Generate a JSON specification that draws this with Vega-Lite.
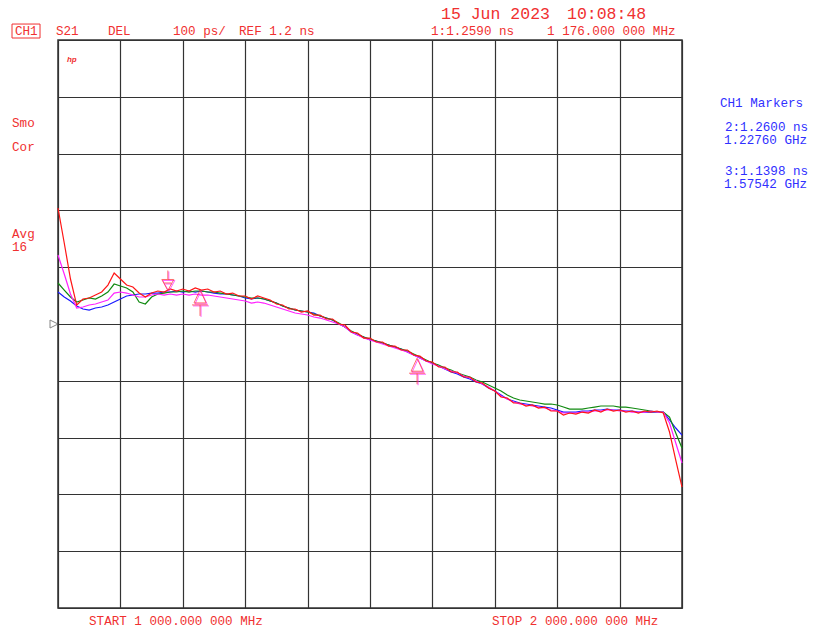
{
  "$schema": "https://vega.github.io/schema/vega-lite/v6.json",
  "width": 624,
  "height": 568,
  "autosize": {"type": "none"},
  "padding": {"left": 58, "top": 40, "right": 135, "bottom": 27},
  "background": "white",
  "config": {
    "view": {"stroke": "#333333", "strokeWidth": 1.5},
    "axis": {"grid": true, "gridColor": "#333333", "gridWidth": 1.2, "gridOpacity": 1, "domain": false, "ticks": false, "labels": false, "title": null}
  },
  "datasets": {
    "traces": [
      {"f":1000,"b":1.2563,"g":1.2722,"m":1.3215,"r":1.4042},
      {"f":1010,"b":1.2475,"g":1.2598,"m":1.2880,"r":1.3426},
      {"f":1020,"b":1.2405,"g":1.2475,"m":1.2528,"r":1.2792},
      {"f":1030,"b":1.2317,"g":1.2387,"m":1.2282,"r":1.2334},
      {"f":1040,"b":1.2264,"g":1.2422,"m":1.2299,"r":1.2440},
      {"f":1050,"b":1.2246,"g":1.2458,"m":1.2334,"r":1.2458},
      {"f":1060,"b":1.2282,"g":1.2440,"m":1.2352,"r":1.2510},
      {"f":1070,"b":1.2299,"g":1.2493,"m":1.2387,"r":1.2563},
      {"f":1080,"b":1.2334,"g":1.2563,"m":1.2422,"r":1.2686},
      {"f":1090,"b":1.2387,"g":1.2704,"m":1.2545,"r":1.2898},
      {"f":1100,"b":1.2440,"g":1.2669,"m":1.2563,"r":1.2792},
      {"f":1110,"b":1.2493,"g":1.2634,"m":1.2545,"r":1.2686},
      {"f":1120,"b":1.2510,"g":1.2563,"m":1.2510,"r":1.2651},
      {"f":1130,"b":1.2528,"g":1.2387,"m":1.2475,"r":1.2545},
      {"f":1140,"b":1.2528,"g":1.2352,"m":1.2475,"r":1.2475},
      {"f":1150,"b":1.2545,"g":1.2475,"m":1.2510,"r":1.2545},
      {"f":1160,"b":1.2545,"g":1.2528,"m":1.2528,"r":1.2581},
      {"f":1170,"b":1.2563,"g":1.2545,"m":1.2510,"r":1.2563},
      {"f":1180,"b":1.2563,"g":1.2563,"m":1.2528,"r":1.2616},
      {"f":1190,"b":1.2581,"g":1.2563,"m":1.2510,"r":1.2581},
      {"f":1200,"b":1.2563,"g":1.2581,"m":1.2528,"r":1.2616},
      {"f":1210,"b":1.2581,"g":1.2563,"m":1.2510,"r":1.2581},
      {"f":1220,"b":1.2563,"g":1.2581,"m":1.2528,"r":1.2634},
      {"f":1230,"b":1.2581,"g":1.2581,"m":1.2510,"r":1.2598},
      {"f":1240,"b":1.2563,"g":1.2563,"m":1.2510,"r":1.2616},
      {"f":1250,"b":1.2545,"g":1.2563,"m":1.2493,"r":1.2563},
      {"f":1260,"b":1.2528,"g":1.2545,"m":1.2475,"r":1.2581},
      {"f":1270,"b":1.2528,"g":1.2528,"m":1.2458,"r":1.2528},
      {"f":1280,"b":1.2510,"g":1.2510,"m":1.2440,"r":1.2545},
      {"f":1290,"b":1.2493,"g":1.2493,"m":1.2422,"r":1.2493},
      {"f":1300,"b":1.2458,"g":1.2475,"m":1.2405,"r":1.2493},
      {"f":1310,"b":1.2440,"g":1.2458,"m":1.2369,"r":1.2440},
      {"f":1320,"b":1.2458,"g":1.2458,"m":1.2387,"r":1.2493},
      {"f":1330,"b":1.2440,"g":1.2440,"m":1.2369,"r":1.2458},
      {"f":1340,"b":1.2405,"g":1.2405,"m":1.2334,"r":1.2422},
      {"f":1350,"b":1.2369,"g":1.2369,"m":1.2299,"r":1.2352},
      {"f":1360,"b":1.2317,"g":1.2317,"m":1.2264,"r":1.2334},
      {"f":1370,"b":1.2282,"g":1.2282,"m":1.2229,"r":1.2264},
      {"f":1380,"b":1.2246,"g":1.2246,"m":1.2194,"r":1.2264},
      {"f":1390,"b":1.2229,"g":1.2229,"m":1.2176,"r":1.2211},
      {"f":1400,"b":1.2211,"g":1.2211,"m":1.2158,"r":1.2229},
      {"f":1410,"b":1.2194,"g":1.2176,"m":1.2123,"r":1.2158},
      {"f":1420,"b":1.2141,"g":1.2141,"m":1.2105,"r":1.2158},
      {"f":1430,"b":1.2105,"g":1.2105,"m":1.2070,"r":1.2088},
      {"f":1440,"b":1.2070,"g":1.2070,"m":1.2035,"r":1.2088},
      {"f":1450,"b":1.2000,"g":1.2017,"m":1.2000,"r":1.2000},
      {"f":1460,"b":1.1947,"g":1.1947,"m":1.1947,"r":1.1982},
      {"f":1470,"b":1.1859,"g":1.1876,"m":1.1859,"r":1.1859},
      {"f":1480,"b":1.1806,"g":1.1824,"m":1.1806,"r":1.1841},
      {"f":1490,"b":1.1771,"g":1.1771,"m":1.1753,"r":1.1753},
      {"f":1500,"b":1.1718,"g":1.1736,"m":1.1718,"r":1.1753},
      {"f":1510,"b":1.1700,"g":1.1700,"m":1.1683,"r":1.1683},
      {"f":1520,"b":1.1665,"g":1.1665,"m":1.1648,"r":1.1683},
      {"f":1530,"b":1.1630,"g":1.1630,"m":1.1612,"r":1.1612},
      {"f":1540,"b":1.1595,"g":1.1595,"m":1.1577,"r":1.1612},
      {"f":1550,"b":1.1560,"g":1.1560,"m":1.1542,"r":1.1542},
      {"f":1560,"b":1.1507,"g":1.1524,"m":1.1507,"r":1.1542},
      {"f":1570,"b":1.1454,"g":1.1472,"m":1.1454,"r":1.1454},
      {"f":1580,"b":1.1401,"g":1.1419,"m":1.1401,"r":1.1436},
      {"f":1590,"b":1.1348,"g":1.1366,"m":1.1348,"r":1.1348},
      {"f":1600,"b":1.1313,"g":1.1313,"m":1.1296,"r":1.1331},
      {"f":1610,"b":1.1260,"g":1.1278,"m":1.1260,"r":1.1243},
      {"f":1620,"b":1.1207,"g":1.1225,"m":1.1207,"r":1.1243},
      {"f":1630,"b":1.1155,"g":1.1190,"m":1.1172,"r":1.1155},
      {"f":1640,"b":1.1119,"g":1.1137,"m":1.1137,"r":1.1155},
      {"f":1650,"b":1.1067,"g":1.1102,"m":1.1084,"r":1.1067},
      {"f":1660,"b":1.1031,"g":1.1067,"m":1.1049,"r":1.1067},
      {"f":1670,"b":1.0979,"g":1.1014,"m":1.0996,"r":1.0979},
      {"f":1680,"b":1.0943,"g":1.0979,"m":1.0943,"r":1.0961},
      {"f":1690,"b":1.0873,"g":1.0926,"m":1.0891,"r":1.0873},
      {"f":1700,"b":1.0820,"g":1.0873,"m":1.0820,"r":1.0820},
      {"f":1710,"b":1.0750,"g":1.0820,"m":1.0732,"r":1.0715},
      {"f":1720,"b":1.0679,"g":1.0750,"m":1.0679,"r":1.0697},
      {"f":1730,"b":1.0644,"g":1.0697,"m":1.0627,"r":1.0609},
      {"f":1740,"b":1.0609,"g":1.0662,"m":1.0591,"r":1.0609},
      {"f":1750,"b":1.0591,"g":1.0644,"m":1.0574,"r":1.0556},
      {"f":1760,"b":1.0574,"g":1.0627,"m":1.0556,"r":1.0574},
      {"f":1770,"b":1.0556,"g":1.0609,"m":1.0538,"r":1.0521},
      {"f":1780,"b":1.0538,"g":1.0591,"m":1.0521,"r":1.0538},
      {"f":1790,"b":1.0521,"g":1.0591,"m":1.0486,"r":1.0468},
      {"f":1800,"b":1.0486,"g":1.0574,"m":1.0468,"r":1.0468},
      {"f":1810,"b":1.0450,"g":1.0538,"m":1.0433,"r":1.0398},
      {"f":1820,"b":1.0450,"g":1.0503,"m":1.0433,"r":1.0433},
      {"f":1830,"b":1.0450,"g":1.0503,"m":1.0433,"r":1.0415},
      {"f":1840,"b":1.0468,"g":1.0503,"m":1.0450,"r":1.0450},
      {"f":1850,"b":1.0468,"g":1.0521,"m":1.0450,"r":1.0433},
      {"f":1860,"b":1.0486,"g":1.0538,"m":1.0468,"r":1.0486},
      {"f":1870,"b":1.0486,"g":1.0556,"m":1.0468,"r":1.0450},
      {"f":1880,"b":1.0503,"g":1.0556,"m":1.0486,"r":1.0503},
      {"f":1890,"b":1.0486,"g":1.0556,"m":1.0486,"r":1.0468},
      {"f":1900,"b":1.0486,"g":1.0538,"m":1.0468,"r":1.0486},
      {"f":1910,"b":1.0468,"g":1.0538,"m":1.0468,"r":1.0450},
      {"f":1920,"b":1.0468,"g":1.0521,"m":1.0450,"r":1.0468},
      {"f":1930,"b":1.0450,"g":1.0503,"m":1.0450,"r":1.0433},
      {"f":1940,"b":1.0450,"g":1.0486,"m":1.0450,"r":1.0468},
      {"f":1950,"b":1.0450,"g":1.0468,"m":1.0468,"r":1.0450},
      {"f":1960,"b":1.0450,"g":1.0450,"m":1.0450,"r":1.0468},
      {"f":1970,"b":1.0450,"g":1.0450,"m":1.0450,"r":1.0433},
      {"f":1980,"b":1.0310,"g":1.0362,"m":1.0257,"r":1.0098},
      {"f":1990,"b":1.0169,"g":1.0081,"m":0.9904,"r":0.9605},
      {"f":2000,"b":1.0045,"g":0.9816,"m":0.9553,"r":0.9130}
    ],
    "markers": [
      {"f": 1176, "ns": 1.259, "id": 1},
      {"f": 1227.6, "ns": 1.26, "id": 2},
      {"f": 1575.42, "ns": 1.1398, "id": 3}
    ],
    "refpos": [{"f": 1000, "ns": 1.2}],
    "chbox": [{"f": 926.3, "f2": 971.2, "ns": 1.7281, "ns2": 1.7035}],
    "redText": [
      {"f": 931.1, "ns": 1.7088, "t": "CH1"},
      {"f": 996.8, "ns": 1.7088, "t": "S21"},
      {"f": 1080.1, "ns": 1.7088, "t": "DEL"},
      {"f": 1184.3, "ns": 1.7088, "t": "100 ps/"},
      {"f": 1290.1, "ns": 1.7088, "t": "REF 1.2 ns"},
      {"f": 1597.8, "ns": 1.7088, "t": "1:1.2590 ns"},
      {"f": 1783.7, "ns": 1.7088, "t": "1 176.000 000 MHz"},
      {"f": 1049.7, "ns": 0.6700, "t": "START 1 000.000 000 MHz"},
      {"f": 1695.5, "ns": 0.6700, "t": "STOP 2 000.000 000 MHz"},
      {"f": 926.3, "ns": 1.5468, "t": "Smo"},
      {"f": 926.3, "ns": 1.5046, "t": "Cor"},
      {"f": 926.3, "ns": 1.3514, "t": "Avg"},
      {"f": 926.3, "ns": 1.3285, "t": "16"}
    ],
    "bigText": [
      {"f": 1613.8, "ns": 1.7369, "t": "15 Jun 2023"},
      {"f": 1815.7, "ns": 1.7369, "t": "10:08:48"}
    ],
    "hpText": [{"f": 1014.4, "ns": 1.6612, "t": "hp"}],
    "blueText": [
      {"f": 2060.9, "ns": 1.5820, "t": "CH1 Markers"},
      {"f": 2068.9, "ns": 1.5398, "t": "2:1.2600 ns"},
      {"f": 2067.3, "ns": 1.5169, "t": "1.22760 GHz"},
      {"f": 2068.9, "ns": 1.4623, "t": "3:1.1398 ns"},
      {"f": 2067.3, "ns": 1.4394, "t": "1.57542 GHz"}
    ]
  },
  "layer": [
    {
      "data": {"name": "traces"},
      "transform": [{"fold": ["b", "g", "m", "r"], "as": ["trace", "ns"]}],
      "mark": {"type": "line", "strokeWidth": 1.2, "interpolate": "linear"},
      "encoding": {
        "x": {"field": "f", "type": "quantitative", "scale": {"domain": [1000, 2000], "nice": false, "zero": false}, "axis": {"values": [1000, 1100, 1200, 1300, 1400, 1500, 1600, 1700, 1800, 1900, 2000]}},
        "y": {"field": "ns", "type": "quantitative", "scale": {"domain": [0.7, 1.7], "nice": false, "zero": false}, "axis": {"values": [0.7, 0.8, 0.9, 1.0, 1.1, 1.2, 1.3, 1.4, 1.5, 1.6, 1.7]}},
        "color": {"field": "trace", "type": "nominal", "scale": {"domain": ["b", "g", "m", "r"], "range": ["#1a1aff", "#108a10", "#ff20ff", "#ff1515"]}, "legend": null}
      }
    },
    {
      "data": {"name": "markers"},
      "transform": [{"filter": "datum.id == 1"}],
      "mark": {"type": "point", "filled": false, "stroke": "#ff20ff", "strokeWidth": 1, "size": 400, "xOffset": 1, "yOffset": 1, "shape": "M0,0L-0.6,-1.1L0.6,-1.1Z M-0.35,-0.75L0.35,-0.75 M0,-1.1L0,-2"},
      "encoding": {"x": {"field": "f", "type": "quantitative"}, "y": {"field": "ns", "type": "quantitative"}}
    },
    {
      "data": {"name": "markers"},
      "transform": [{"filter": "datum.id == 1"}],
      "mark": {"type": "point", "filled": false, "stroke": "#ff3030", "strokeWidth": 1, "size": 400, "shape": "M0,0L-0.6,-1.1L0.6,-1.1Z M-0.35,-0.75L0.35,-0.75 M0,-1.1L0,-2"},
      "encoding": {"x": {"field": "f", "type": "quantitative"}, "y": {"field": "ns", "type": "quantitative"}}
    },
    {
      "data": {"name": "markers"},
      "transform": [{"filter": "datum.id != 1"}],
      "mark": {"type": "point", "filled": false, "stroke": "#ff20ff", "strokeWidth": 1, "size": 400, "xOffset": 1, "yOffset": 1, "shape": "M0,0L-0.6,1.3L0.6,1.3Z M-0.8,1.5L0.8,1.5 M0,1.5L0,2.6"},
      "encoding": {"x": {"field": "f", "type": "quantitative"}, "y": {"field": "ns", "type": "quantitative"}}
    },
    {
      "data": {"name": "markers"},
      "transform": [{"filter": "datum.id != 1"}],
      "mark": {"type": "point", "filled": false, "stroke": "#ff3030", "strokeWidth": 1, "size": 400, "shape": "M0,0L-0.6,1.3L0.6,1.3Z M-0.8,1.5L0.8,1.5 M0,1.5L0,2.6"},
      "encoding": {"x": {"field": "f", "type": "quantitative"}, "y": {"field": "ns", "type": "quantitative"}}
    },
    {
      "data": {"name": "refpos"},
      "mark": {"type": "point", "filled": false, "stroke": "#555555", "strokeWidth": 1, "size": 64, "xOffset": -4, "shape": "M-1,-1L1,0L-1,1Z"},
      "encoding": {"x": {"field": "f", "type": "quantitative"}, "y": {"field": "ns", "type": "quantitative"}}
    },
    {
      "data": {"name": "chbox"},
      "mark": {"type": "rect", "fill": null, "fillOpacity": 0, "stroke": "#f03030", "strokeWidth": 1},
      "encoding": {
        "x": {"field": "f", "type": "quantitative"}, "x2": {"field": "f2"},
        "y": {"field": "ns", "type": "quantitative"}, "y2": {"field": "ns2"}
      }
    },
    {
      "data": {"name": "redText"},
      "mark": {"type": "text", "align": "left", "baseline": "alphabetic", "font": "Liberation Mono", "fontSize": 12.6, "color": "#f03030"},
      "encoding": {"x": {"field": "f", "type": "quantitative"}, "y": {"field": "ns", "type": "quantitative"}, "text": {"field": "t"}}
    },
    {
      "data": {"name": "bigText"},
      "mark": {"type": "text", "align": "left", "baseline": "alphabetic", "font": "Liberation Mono", "fontSize": 16.5, "color": "#f03030"},
      "encoding": {"x": {"field": "f", "type": "quantitative"}, "y": {"field": "ns", "type": "quantitative"}, "text": {"field": "t"}}
    },
    {
      "data": {"name": "hpText"},
      "mark": {"type": "text", "align": "left", "baseline": "alphabetic", "font": "Liberation Sans", "fontSize": 8, "fontStyle": "italic", "fontWeight": "bold", "color": "#f03030"},
      "encoding": {"x": {"field": "f", "type": "quantitative"}, "y": {"field": "ns", "type": "quantitative"}, "text": {"field": "t"}}
    },
    {
      "data": {"name": "blueText"},
      "mark": {"type": "text", "align": "left", "baseline": "alphabetic", "font": "Liberation Mono", "fontSize": 12.6, "color": "#3030ff"},
      "encoding": {"x": {"field": "f", "type": "quantitative"}, "y": {"field": "ns", "type": "quantitative"}, "text": {"field": "t"}}
    }
  ]
}
